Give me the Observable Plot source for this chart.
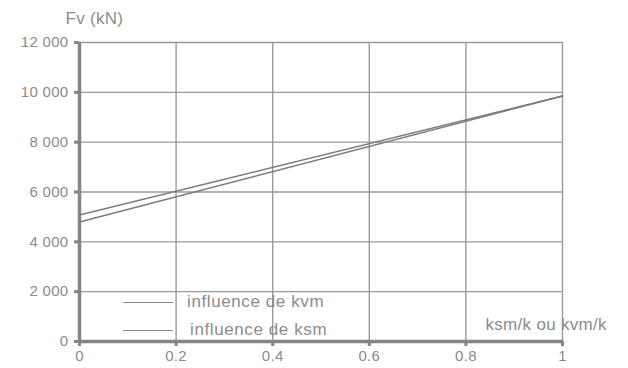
<!DOCTYPE html>
<html><head><meta charset="utf-8">
<script src="https://cdn.jsdelivr.net/npm/d3@7"></script>
<script src="https://cdn.jsdelivr.net/npm/@observablehq/plot@0.6"></script>
<style>
body{margin:0;background:#fff;font-family:"Liberation Sans",Arial,sans-serif;}
#wrap{position:relative;width:628px;height:368px;}
.leg{position:absolute;font-size:17px;letter-spacing:0.6px;color:#8c8c8c;display:flex;align-items:center;height:20px;line-height:20px;white-space:nowrap;}
.leg span.sw{display:inline-block;width:50px;height:0;border-top:1.6px solid #8a8a8a;margin-right:14px;}
</style></head><body><div id="wrap"></div>
<script>
const xTicks = [0, 0.2, 0.4, 0.6, 0.8, 1];
const yTicks = [0, 2000, 4000, 6000, 8000, 10000, 12000];
const seriesNames = ["influence de kvm", "influence de ksm"];
const ratio = [0, 1];
const kvmValues = [5080, 9850];
const ksmValues = [4800, 9850];
const yLabel = "Fv (kN)";
const xLabel = "ksm/k ou kvm/k";

const data = [];
ratio.forEach((r,i)=>{
  data.push({s: seriesNames[0], x: r, y: kvmValues[i]});
  data.push({s: seriesNames[1], x: r, y: ksmValues[i]});
});
const fmt = d3.formatLocale({thousands:"\u00a0", grouping:[3], decimal:"."}).format(",");
const xfmt = d => String(d);
const gray = "#8c8c8c";
const chart = Plot.plot({
  width: 628, height: 368,
  marginLeft: 79, marginRight: 66, marginTop: 42, marginBottom: 27,
  style: {fontFamily: "Liberation Sans, Arial, sans-serif", fontSize: "15px", color: gray, background: "#fff", letterSpacing: "0.3px", overflow: "visible"},
  x: {domain: [0, 1], label: null},
  y: {domain: [0, 12000], label: null},
  marks: [
    Plot.gridX(xTicks.filter(d => d > 0), {stroke: "#9a9a9a", strokeOpacity: 1, strokeWidth: 1.4}),
    Plot.gridY(yTicks.filter(d => d > 0), {stroke: "#9a9a9a", strokeOpacity: 1, strokeWidth: 1.4}),
    Plot.axisX(xTicks, {tickSize: 5, tickPadding: 4, stroke: "#858585", strokeWidth: 3, fill: gray, fontSize: 15, tickFormat: xfmt, label: null}),
    Plot.axisY(yTicks, {tickSize: 5, tickPadding: 6, stroke: "#858585", strokeWidth: 3, fill: gray, fontSize: 15, tickFormat: fmt, label: null}),
    Plot.ruleX([0], {stroke: "#858585", strokeWidth: 3.5}),
    Plot.ruleY([0], {stroke: "#858585", strokeWidth: 3.5}),
    Plot.line(data, {x: "x", y: "y", z: "s", stroke: "#7c7c7c", strokeWidth: 1.5}),
    Plot.text([yLabel], {frameAnchor: "top-left", dx: -14, dy: -31, fill: gray, fontSize: 17, textAnchor: "start"}),
    Plot.text([xLabel], {frameAnchor: "bottom-right", dx: -77, dy: -12, fill: gray, fontSize: 17, textAnchor: "start"})
  ]
});
document.getElementById("wrap").appendChild(chart);
const tops = [292, 320];
const lefts = [123, 123];
seriesNames.forEach((n,i)=>{
  const d = document.createElement("div");
  d.className = "leg";
  d.style.left = lefts[i] + "px";
  d.style.top = tops[i] + "px";
  d.innerHTML = '<span class="sw"' + (i === 1 ? ' style="margin-right:17px"' : '') + '></span>' + n;
  document.getElementById("wrap").appendChild(d);
});
</script></body></html>
